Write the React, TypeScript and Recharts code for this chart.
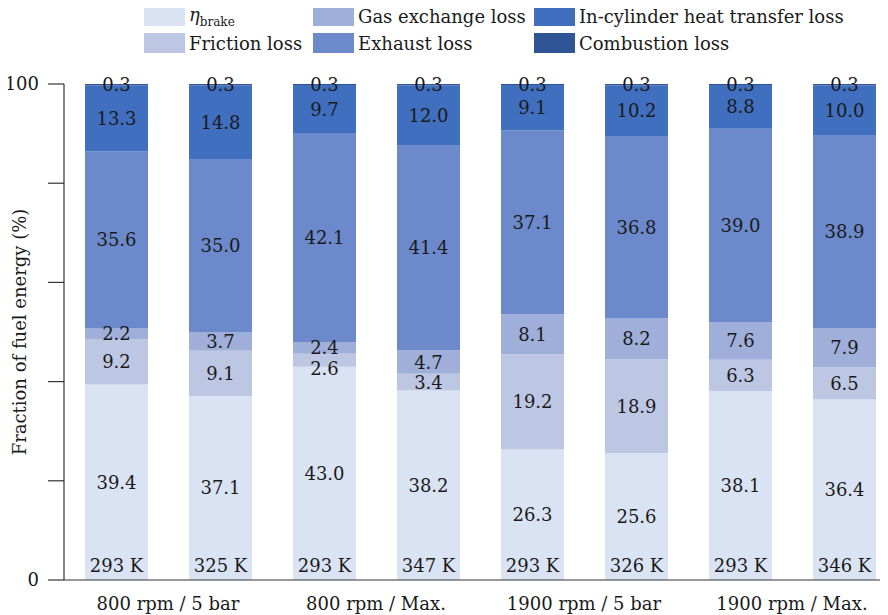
import React from "react";
import { BarChart, Bar, XAxis, YAxis, LabelList } from "recharts";

const groups = ["800 rpm / 5 bar", "800 rpm / Max.", "1900 rpm / 5 bar", "1900 rpm / Max."];
const temps = ["293 K", "325 K", "293 K", "347 K", "293 K", "326 K", "293 K", "346 K"];

const brake = [39.4, 37.1, 43.0, 38.2, 26.3, 25.6, 38.1, 36.4];
const friction = [9.2, 9.1, 2.6, 3.4, 19.2, 18.9, 6.3, 6.5];
const gasExchange = [2.2, 3.7, 2.4, 4.7, 8.1, 8.2, 7.6, 7.9];
const exhaust = [35.6, 35.0, 42.1, 41.4, 37.1, 36.8, 39.0, 38.9];
const heatTransfer = [13.3, 14.8, 9.7, 12.0, 9.1, 10.2, 8.8, 10.0];
const combustion = [0.3, 0.3, 0.3, 0.3, 0.3, 0.3, 0.3, 0.3];

const yTicks = [0, 20, 40, 60, 80, 100];

const FONT = "DejaVu Serif";
const INK = "#1a1a1a";
const FS = 18;

const series = [
  { key: "brake", label: "brake", color: "#dae3f3" },
  { key: "friction", label: "Friction loss", color: "#bdc7e4" },
  { key: "gasExchange", label: "Gas exchange loss", color: "#a0afda" },
  { key: "exhaust", label: "Exhaust loss", color: "#6c89cb" },
  { key: "heatTransfer", label: "In-cylinder heat transfer loss", color: "#3f6fbe" },
  { key: "combustion", label: "Combustion loss", color: "#2f5597" },
];

const data = temps.map((t, i) => ({
  id: `c${i}`,
  temp: t,
  brake: brake[i],
  friction: friction[i],
  gasExchange: gasExchange[i],
  exhaust: exhaust[i],
  heatTransfer: heatTransfer[i],
  combustion: combustion[i],
}));

// thin friction slices get their label pushed to the lower edge so it doesn't collide
const makeValueLabel = (pushDownIfThin: boolean) => (props: any) => {
  const { x, y, width, height, value } = props;
  const cy = pushDownIfThin && height < 15 ? y + height + 2 : y + height / 2;
  return (
    <text
      x={x + width / 2}
      y={cy}
      textAnchor="middle"
      dominantBaseline="central"
      fontFamily={FONT}
      fontSize={FS}
      fill={INK}
    >
      {Number(value).toFixed(1)}
    </text>
  );
};

const TempLabel = (props: any) => {
  const { x, y, width, height, value } = props;
  return (
    <text
      x={x + width / 2}
      y={y + height - 15}
      textAnchor="middle"
      dominantBaseline="central"
      fontFamily={FONT}
      fontSize={FS}
      fill={INK}
    >
      {value}
    </text>
  );
};

const GroupTick = (props: any) => {
  const { x, y, index } = props;
  if (index % 2 !== 0) return <g />;
  return (
    <text
      x={x + 52}
      y={y + 23}
      textAnchor="middle"
      dominantBaseline="central"
      fontFamily={FONT}
      fontSize={FS}
      fill={INK}
    >
      {groups[index / 2]}
    </text>
  );
};

const legendCols = [144, 313, 534];
const legendRows = [6, 33];

function LegendBox() {
  return (
    <>
      {series.map((s, i) => {
        const left = legendCols[Math.floor(i / 2)];
        const top = legendRows[i % 2];
        return (
          <div
            key={s.key}
            style={{
              position: "absolute",
              left,
              top,
              height: 20,
              display: "flex",
              alignItems: "center",
              fontFamily: FONT,
              fontSize: FS,
              color: INK,
              whiteSpace: "nowrap",
            }}
          >
            <span style={{ width: 41, height: 20, background: s.color, marginRight: 4, display: "inline-block" }} />
            {s.key === "brake" ? (
              <span>
                <i>η</i>
                <sub style={{ fontSize: 12 }}>brake</sub>
              </span>
            ) : (
              <span>{s.label}</span>
            )}
          </div>
        );
      })}
    </>
  );
}

export default function App() {
  return (
    <div
      style={{
        position: "relative",
        marginLeft: -8,
        marginTop: -8,
        width: 888,
        height: 615,
        overflow: "hidden",
        background: "#fff",
      }}
    >
      <BarChart
        width={920}
        height={615}
        data={data}
        margin={{ top: 84, right: 24, bottom: 0, left: 0 }}
        barCategoryGap={0}
      >
        <XAxis
          dataKey="id"
          height={35}
          interval={0}
          tickLine={false}
          tickSize={0}
          tickMargin={0}
          axisLine={{ stroke: "#333", strokeWidth: 1.2 }}
          tick={<GroupTick />}
        />
        <YAxis
          width={64}
          domain={[0, 100]}
          allowDataOverflow
          ticks={yTicks}
          tickSize={16}
          tickMargin={9}
          tickFormatter={(v: number) => (v === 0 || v === 100 ? String(v) : "")}
          tick={{ fontFamily: FONT, fontSize: FS, fill: INK }}
          tickLine={{ stroke: "#333", strokeWidth: 1.2 }}
          axisLine={{ stroke: "#333", strokeWidth: 1.2 }}
          label={{
            value: "Fraction of fuel energy (%)",
            angle: -90,
            position: "center",
            dx: -12,
            style: { fontFamily: FONT, fontSize: FS, fill: INK },
          }}
        />
        {series.map((s) => (
          <Bar
            key={s.key}
            dataKey={s.key}
            stackId="a"
            fill={s.color}
            barSize={63}
            isAnimationActive={false}
          >
            <LabelList dataKey={s.key} content={makeValueLabel(s.key === "friction")} />
            {s.key === "brake" && <LabelList dataKey="temp" content={<TempLabel />} />}
          </Bar>
        ))}
      </BarChart>
      <LegendBox />
    </div>
  );
}
